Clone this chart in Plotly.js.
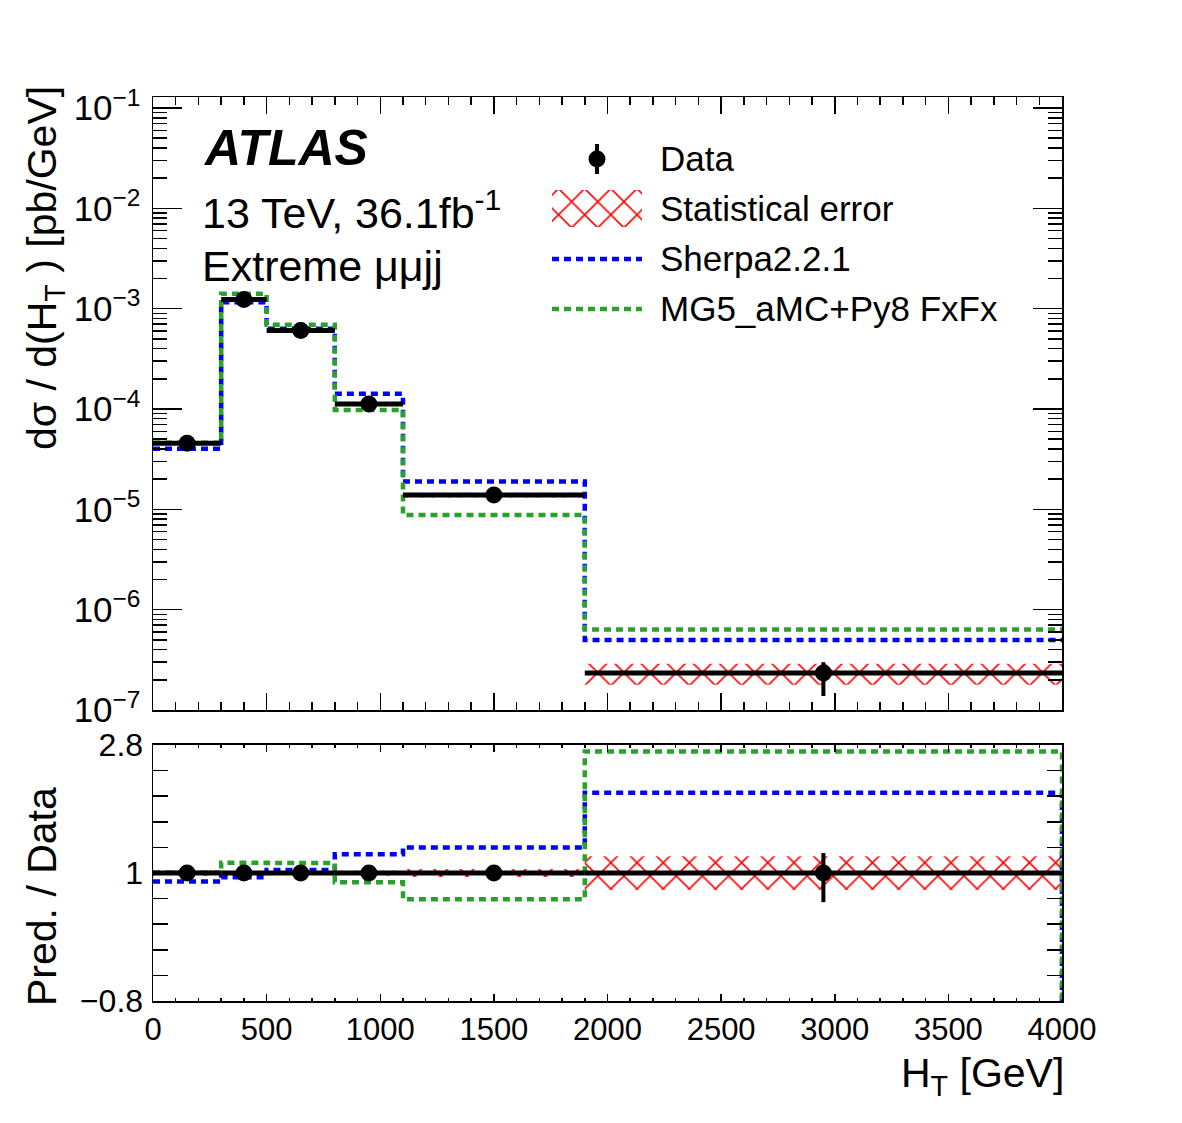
<!DOCTYPE html>
<html><head><meta charset="utf-8">
<script src="https://cdn.plot.ly/plotly-3.0.1.min.js"></script>
<style>html,body{margin:0;padding:0;background:#fff}</style>
</head><body><div id="chart" style="width:1182px;height:1123px"></div>
<script>
// ---- data ----
const binEdges = [0, 300, 500, 800, 1100, 1900, 4000];
const binCenters = [150, 400, 650, 950, 1500, 2950];
const dataXsec = [4.56e-5, 1.233e-3, 6.05e-4, 1.125e-4, 1.39e-5, 2.34e-7];
const dataErrUpRel = [0.04, 0.015, 0.015, 0.04, 0.06, 0.28];
const dataErrDownRel = [0.04, 0.015, 0.015, 0.04, 0.06, 0.41];
const statErrRel = [0.04, 0.012, 0.012, 0.035, 0.055, 0.235];
const sherpaXsec = [4.01e-5, 1.16e-3, 6.3e-4, 1.42e-4, 1.89e-5, 4.98e-7];
const mg5Xsec = [4.6e-5, 1.41e-3, 6.9e-4, 9.8e-5, 8.76e-6, 6.34e-7];
const seriesNames = ['Data', 'Statistical error', 'Sherpa2.2.1', 'MG5_aMC+Py8 FxFx'];
const upperTickVals = [1e-7, 1e-6, 1e-5, 1e-4, 1e-3, 1e-2, 1e-1];
const upperTickText = ['10<sup>−7</sup>','10<sup>−6</sup>','10<sup>−5</sup>','10<sup>−4</sup>','10<sup>−3</sup>','10<sup>−2</sup>','10<sup>−1</sup>'];
const ratioTickVals = [-0.8, 1, 2.8];
const ratioTickText = ['−0.8', '1', '2.8'];
const ratioRange = [-0.8, 2.8];

// ---- style ----
const FONT = 'Liberation Sans, Arial, Helvetica, sans-serif';
const BLUE = '#0000ff', GREEN = 'rgb(44,160,44)';
const DASH = '7px,5px';
const PLOT_L = 153, PLOT_R = 1062, PLOT_T = 97, PLOT_B = 1001;
const px = x => (x - PLOT_L) / (PLOT_R - PLOT_L);
const py = y => (PLOT_B - y) / (PLOT_B - PLOT_T);

// derived
const halfWidths = binCenters.map((c, i) => (binEdges[i + 1] - binEdges[i]) / 2);
const ratioSherpa = sherpaXsec.map((v, i) => v / dataXsec[i]);
const ratioMg5 = mg5Xsec.map((v, i) => v / dataXsec[i]);
const ones = dataXsec.map(() => 1);
function stepY(vals) { return vals.concat([vals[vals.length - 1]]); }
function band(center, rel) {
  const xs = [], ys = [];
  for (let i = 0; i < center.length; i++) { xs.push(binEdges[i], binEdges[i + 1]); ys.push(center[i] * (1 + rel[i]), center[i] * (1 + rel[i])); }
  for (let i = center.length - 1; i >= 0; i--) { xs.push(binEdges[i + 1], binEdges[i]); ys.push(center[i] * (1 - rel[i]), center[i] * (1 - rel[i])); }
  return {xs, ys};
}
const hatch = {shape: 'x', fgcolor: 'red', bgcolor: 'rgba(0,0,0,0)', size: 18.5, solidity: 0.16};

const bUp = band(dataXsec, statErrRel);
const bRat = band(ones, statErrRel);

const traces = [
  // upper panel
  {x: bUp.xs, y: bUp.ys, xaxis: 'x', yaxis: 'y', mode: 'lines', fill: 'toself', fillcolor: 'rgba(0,0,0,0)', fillpattern: hatch, line: {width: 0}, name: seriesNames[1], hoverinfo: 'skip'},
  {x: binEdges, y: stepY(sherpaXsec), xaxis: 'x', yaxis: 'y', mode: 'lines', line: {shape: 'hv', color: BLUE, width: 4.5, dash: DASH}, name: seriesNames[2]},
  {x: binEdges, y: stepY(mg5Xsec), xaxis: 'x', yaxis: 'y', mode: 'lines', line: {shape: 'hv', color: GREEN, width: 4.5, dash: DASH}, name: seriesNames[3]},
  {x: binCenters, y: dataXsec, xaxis: 'x', yaxis: 'y', mode: 'markers', marker: {color: 'black', size: 17},
   error_x: {type: 'data', array: halfWidths, color: 'black', thickness: 5, width: 0},
   error_y: {type: 'data', symmetric: false, array: dataXsec.map((v, i) => v * dataErrUpRel[i]), arrayminus: dataXsec.map((v, i) => v * dataErrDownRel[i]), color: 'black', thickness: 4, width: 0},
   name: seriesNames[0]},
  // ratio panel
  {x: bRat.xs, y: bRat.ys, xaxis: 'x2', yaxis: 'y2', mode: 'lines', fill: 'toself', fillcolor: 'rgba(0,0,0,0)', fillpattern: hatch, line: {width: 0}, hoverinfo: 'skip'},
  {x: binEdges.concat([binEdges[binEdges.length - 1]]), y: stepY(ratioSherpa).concat([ratioRange[0]]), xaxis: 'x2', yaxis: 'y2', mode: 'lines', line: {shape: 'hv', color: BLUE, width: 4.5, dash: DASH}},
  {x: binEdges.concat([binEdges[binEdges.length - 1]]), y: stepY(ratioMg5).concat([ratioRange[0]]), xaxis: 'x2', yaxis: 'y2', mode: 'lines', line: {shape: 'hv', color: GREEN, width: 4.5, dash: DASH}},
  {x: binCenters, y: ones, xaxis: 'x2', yaxis: 'y2', mode: 'markers', marker: {color: 'black', size: 17},
   error_x: {type: 'data', array: halfWidths, color: 'black', thickness: 5, width: 0},
   error_y: {type: 'data', symmetric: false, array: dataErrUpRel, arrayminus: dataErrDownRel, color: 'black', thickness: 4, width: 0}},
  // legend symbols (pixel overlay axes)
  {x: [597], y: [159], xaxis: 'x3', yaxis: 'y3', mode: 'markers', marker: {color: 'black', size: 17}, error_y: {type: 'data', array: [15], color: 'black', thickness: 4, width: 0}, hoverinfo: 'skip'},
  {x: [552, 642, 642, 552, 552], y: [190, 190, 227, 227, 190], xaxis: 'x3', yaxis: 'y3', mode: 'lines', fill: 'toself', fillcolor: 'rgba(0,0,0,0)', fillpattern: hatch, line: {width: 0}, hoverinfo: 'skip'},
  {x: [552, 642], y: [259, 259], xaxis: 'x3', yaxis: 'y3', mode: 'lines', line: {color: BLUE, width: 4.5, dash: DASH}, hoverinfo: 'skip'},
  {x: [552, 642], y: [309, 309], xaxis: 'x3', yaxis: 'y3', mode: 'lines', line: {color: GREEN, width: 4.5, dash: DASH}, hoverinfo: 'skip'}
];

const minorLog = [];
for (let e = -7; e <= -1; e++) for (let k = 2; k <= 9; k++) minorLog.push(k * Math.pow(10, e));
const minorRatio = [];
for (let i = 1; i < 10; i++) minorRatio.push(ratioRange[0] + i * (ratioRange[1] - ratioRange[0]) / 10);

const frame = {showline: true, linecolor: 'black', linewidth: 1.5, mirror: 'allticks', showgrid: false, zeroline: false, ticks: 'inside', tickcolor: 'black', tickwidth: 1.5};
const tickFont = {family: FONT, size: 31, color: 'black'};

const ann = (x, y, text, size, xanchor, extra) => Object.assign({xref: 'paper', yref: 'paper', x: px(x), y: py(y), text, showarrow: false, xanchor, yanchor: 'middle', font: {family: FONT, size, color: 'black'}}, extra || {});

const layout = {
  width: 1182, height: 1123,
  margin: {l: 153, r: 120, t: 97, b: 122},
  paper_bgcolor: 'white', plot_bgcolor: 'rgba(0,0,0,0)',
  showlegend: false,
  xaxis: Object.assign({}, frame, {domain: [0, 1], anchor: 'y', range: [0, 4000], tickmode: 'linear', tick0: 0, dtick: 500, ticklen: 17, showticklabels: false,
    minor: {tickmode: 'linear', tick0: 0, dtick: 100, ticks: 'inside', ticklen: 8, tickwidth: 1.5, tickcolor: 'black', showgrid: false}}),
  yaxis: Object.assign({}, frame, {domain: [0.3219, 1], anchor: 'x', type: 'log', range: [-7, -0.89], tickmode: 'array', tickvals: upperTickVals, ticktext: upperTickText, ticklen: 29, tickfont: {family: FONT, size: 35, color: 'black'}, ticklabelstandoff: 4,
    minor: {tickmode: 'array', tickvals: minorLog, ticks: 'inside', ticklen: 14, tickwidth: 1.5, tickcolor: 'black', showgrid: false}}),
  xaxis2: Object.assign({}, frame, {domain: [0, 1], anchor: 'y2', range: [0, 4000], tickmode: 'linear', tick0: 0, dtick: 500, ticklen: 7, tickfont: tickFont,
    minor: {tickmode: 'linear', tick0: 0, dtick: 100, ticks: 'inside', ticklen: 3.5, tickwidth: 1.5, tickcolor: 'black', showgrid: false}}),
  yaxis2: Object.assign({}, frame, {domain: [0, 0.28319], anchor: 'x2', range: ratioRange, tickmode: 'array', tickvals: ratioTickVals, ticktext: ratioTickText, ticklen: 15, tickfont: {family: FONT, size: 32, color: 'black'}, ticklabelstandoff: 2,
    minor: {tickmode: 'array', tickvals: minorRatio, ticks: 'inside', ticklen: 15, tickwidth: 1.5, tickcolor: 'black', showgrid: false}}),
  xaxis3: {domain: [0, 1], anchor: 'y3', range: [PLOT_L, PLOT_R], visible: false, fixedrange: true},
  yaxis3: {domain: [0, 1], anchor: 'x3', range: [PLOT_B, PLOT_T], visible: false, fixedrange: true},
  annotations: [
    ann(201, 148, '<b><i>ATLAS</i></b>', 50, 'left'),
    ann(200, 210, '13 TeV, 36.1fb<sup>-1</sup>', 43, 'left'),
    ann(200, 266, 'Extreme μμjj', 43, 'left'),
    ann(658, 158, seriesNames[0], 35, 'left'),
    ann(658, 208, seriesNames[1], 35, 'left'),
    ann(658, 258, seriesNames[2], 35, 'left'),
    ann(658, 308, seriesNames[3], 35, 'left'),
    ann(1066, 1076, 'H<sub>T</sub> [GeV]', 41, 'right'),
    ann(45, 84, 'dσ / d(H<sub>T</sub> ) [pb/GeV]', 41, 'center', {yanchor: 'top', textangle: -90}),
    ann(42, 897, 'Pred. / Data', 41, 'center', {textangle: -90})
  ]
};

Plotly.newPlot('chart', traces, layout, {staticPlot: true, displayModeBar: false});
</script></body></html>
